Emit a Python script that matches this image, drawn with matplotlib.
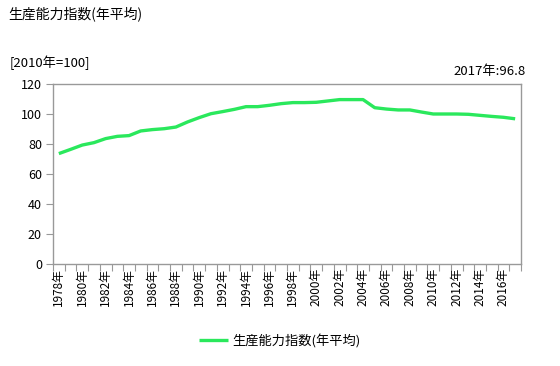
import matplotlib
matplotlib.use("Agg")
import matplotlib.pyplot as plt
from matplotlib.ticker import FixedLocator, NullFormatter

plt.rcParams['font.family'] = ['Noto Sans CJK JP', 'DejaVu Sans']

# data
years = list(range(1978, 2018))
values = [73.6, 76.4, 79.3, 80.9, 83.6, 85.1, 85.6, 88.7, 89.6, 90.2,
          91.3, 94.7, 97.6, 100.2, 101.6, 103.1, 104.9, 104.9, 105.8, 106.9,
          107.6, 107.6, 107.8, 108.7, 109.6, 109.6, 109.6, 104.2, 103.3, 102.7,
          102.7, 101.3, 100.0, 100.0, 100.0, 99.8, 99.1, 98.4, 97.8, 96.8]
series_name = '生産能力指数(年平均)'
unit_label = '[2010年=100]'
last_label = '2017年:96.8'
yticks = [0, 20, 40, 60, 80, 100, 120]

fig = plt.figure(figsize=(5.6, 3.66), dpi=100)
ax = fig.add_axes([53 / 560, 1 - 264 / 366, 468 / 560, 180 / 366])

x = list(range(len(years)))
ax.plot(x, values, color='#2ae85c', lw=2.4, solid_capstyle='butt',
        label=series_name)

ax.set_xlim(-0.5, len(years) - 0.5)
ax.set_ylim(0, 120)
ax.set_yticks(yticks)
ax.set_yticklabels([str(v) for v in yticks], fontsize=9)

# ticks at category boundaries, labels every second year
ax.xaxis.set_major_locator(FixedLocator([i - 0.5 for i in range(len(years) + 1)]))
ax.xaxis.set_major_formatter(NullFormatter())
ax.set_xticks(x[::2], minor=True)
ax.set_xticklabels([f'{y}年' for y in years[::2]], minor=True,
                   rotation=90, fontsize=8.5)
ax.tick_params(axis='x', which='minor', length=0, pad=3)
ax.tick_params(axis='x', which='major', length=5, direction='out', color='#999999')
ax.tick_params(axis='y', length=5, direction='out', color='#999999', pad=3)

for s in ax.spines.values():
    s.set_color('#999999')
    s.set_linewidth(1)

fig.text(8 / 560, 1 - 14 / 366, series_name, fontsize=10, va='center', ha='left')
fig.text(10 / 560, 1 - 63 / 366, unit_label, fontsize=9.5, va='center', ha='left')
fig.text(526 / 560, 1 - 72 / 366, last_label, fontsize=9.5, va='center', ha='right')

fig.legend(loc='center', bbox_to_anchor=(280 / 560, 1 - 341 / 366), frameon=False,
           fontsize=9.5, handlelength=2.2, handletextpad=0.3)

fig.savefig('out.png', dpi=100)
